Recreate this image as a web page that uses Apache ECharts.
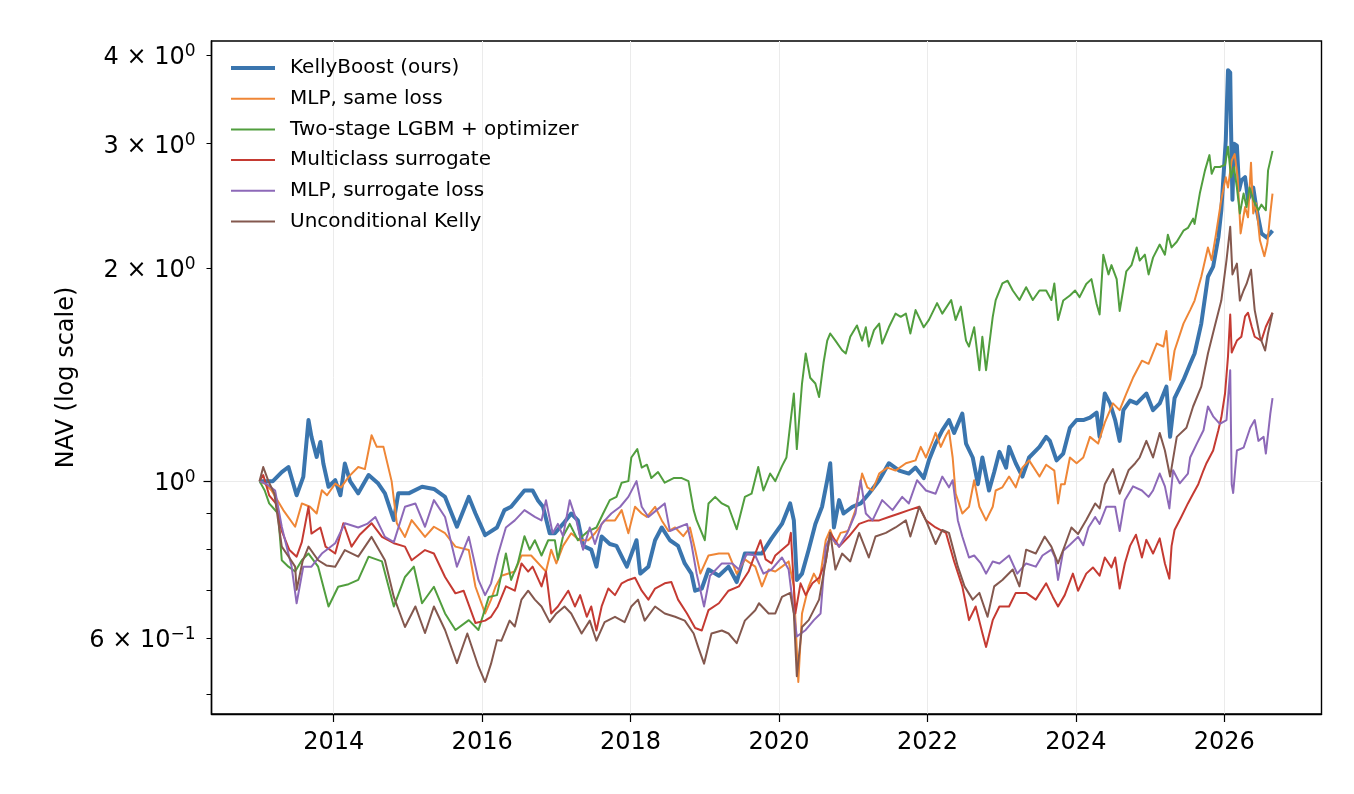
<!DOCTYPE html>
<html>
<head>
<meta charset="utf-8">
<title>NAV (log scale)</title>
<script src="https://cdn.jsdelivr.net/npm/echarts@6/dist/echarts.min.js"></script>
<style>
html, body { margin: 0; padding: 0; background: #fff; }
#chart { width: 1354px; height: 794px; }
</style>
</head>
<body>
<div id="chart"></div>
<script>
// [year, NAV]
var kellyBoost = [[2013.0,1.0],[2013.1,1.0],[2013.18,1.0],[2013.3,1.03],[2013.39,1.047],[2013.5,0.955],[2013.59,1.014],[2013.66,1.22],[2013.7,1.155],[2013.77,1.082],[2013.82,1.136],[2013.86,1.059],[2013.93,0.982],[2014.02,1.003],[2014.09,0.955],[2014.15,1.059],[2014.22,1.0],[2014.33,0.961],[2014.47,1.02],[2014.6,0.992],[2014.69,0.961],[2014.81,0.881],[2014.87,0.961],[2015.01,0.961],[2015.19,0.982],[2015.35,0.975],[2015.5,0.95],[2015.66,0.862],[2015.82,0.95],[2015.91,0.9],[2016.04,0.839],[2016.2,0.86],[2016.3,0.91],[2016.39,0.92],[2016.57,0.97],[2016.68,0.97],[2016.75,0.94],[2016.82,0.92],[2016.91,0.844],[2016.98,0.844],[2017.09,0.87],[2017.2,0.9],[2017.29,0.88],[2017.36,0.81],[2017.47,0.8],[2017.54,0.757],[2017.61,0.835],[2017.72,0.815],[2017.81,0.81],[2017.9,0.775],[2017.95,0.757],[2018.08,0.825],[2018.13,0.74],[2018.24,0.757],[2018.33,0.825],[2018.42,0.86],[2018.53,0.825],[2018.64,0.81],[2018.73,0.765],[2018.82,0.74],[2018.87,0.7],[2018.96,0.705],[2019.05,0.75],[2019.19,0.735],[2019.32,0.757],[2019.43,0.72],[2019.54,0.79],[2019.68,0.79],[2019.77,0.79],[2019.9,0.83],[2020.04,0.87],[2020.15,0.93],[2020.2,0.88],[2020.24,0.725],[2020.31,0.74],[2020.4,0.8],[2020.49,0.87],[2020.58,0.92],[2020.65,1.003],[2020.69,1.06],[2020.74,0.86],[2020.81,0.94],[2020.87,0.9],[2020.99,0.92],[2021.1,0.93],[2021.21,0.96],[2021.35,1.003],[2021.48,1.06],[2021.62,1.035],[2021.75,1.025],[2021.84,1.045],[2021.95,1.01],[2022.02,1.07],[2022.11,1.13],[2022.2,1.18],[2022.29,1.22],[2022.36,1.17],[2022.47,1.246],[2022.52,1.13],[2022.61,1.08],[2022.68,0.99],[2022.74,1.08],[2022.83,0.97],[2022.9,1.03],[2022.97,1.1],[2023.06,1.045],[2023.1,1.118],[2023.19,1.06],[2023.28,1.015],[2023.37,1.08],[2023.51,1.118],[2023.6,1.155],[2023.65,1.14],[2023.74,1.07],[2023.83,1.094],[2023.92,1.19],[2024.01,1.22],[2024.1,1.22],[2024.19,1.23],[2024.28,1.25],[2024.32,1.155],[2024.39,1.33],[2024.46,1.288],[2024.53,1.22],[2024.59,1.14],[2024.64,1.26],[2024.73,1.3],[2024.82,1.288],[2024.95,1.33],[2025.04,1.26],[2025.13,1.288],[2025.22,1.36],[2025.27,1.155],[2025.33,1.31],[2025.45,1.39],[2025.54,1.465],[2025.6,1.515],[2025.69,1.67],[2025.78,1.945],[2025.85,2.01],[2025.92,2.21],[2025.96,2.415],[2026.02,3.03],[2026.05,3.81],[2026.08,3.78],[2026.09,3.2],[2026.11,2.5],[2026.13,3.0],[2026.17,2.98],[2026.2,2.58],[2026.23,2.66],[2026.28,2.69],[2026.32,2.5],[2026.39,2.6],[2026.43,2.44],[2026.5,2.24],[2026.57,2.21],[2026.65,2.26]];

var mlpSameLoss = [[2013.0,1.0],[2013.08,0.99],[2013.16,0.971],[2013.32,0.91],[2013.48,0.862],[2013.57,0.93],[2013.68,0.92],[2013.77,0.9],[2013.84,0.971],[2013.91,0.955],[2014.02,0.992],[2014.1,0.98],[2014.2,1.014],[2014.33,1.047],[2014.42,1.04],[2014.51,1.161],[2014.58,1.118],[2014.67,1.118],[2014.78,1.0],[2014.85,0.872],[2014.96,0.834],[2015.05,0.881],[2015.23,0.834],[2015.35,0.862],[2015.5,0.844],[2015.64,0.808],[2015.82,0.799],[2015.91,0.709],[2016.04,0.65],[2016.12,0.68],[2016.18,0.709],[2016.26,0.735],[2016.44,0.745],[2016.53,0.785],[2016.66,0.785],[2016.86,0.745],[2016.93,0.8],[2017.0,0.765],[2017.09,0.81],[2017.2,0.844],[2017.31,0.825],[2017.43,0.825],[2017.52,0.844],[2017.65,0.88],[2017.79,0.88],[2017.88,0.91],[2017.97,0.844],[2018.06,0.92],[2018.15,0.9],[2018.22,0.89],[2018.33,0.92],[2018.42,0.88],[2018.51,0.85],[2018.6,0.86],[2018.71,0.836],[2018.8,0.86],[2018.87,0.8],[2018.94,0.74],[2019.05,0.785],[2019.19,0.79],[2019.32,0.79],[2019.43,0.74],[2019.54,0.775],[2019.68,0.757],[2019.77,0.71],[2019.86,0.75],[2019.95,0.745],[2020.04,0.757],[2020.13,0.77],[2020.2,0.71],[2020.26,0.52],[2020.31,0.65],[2020.4,0.71],[2020.47,0.74],[2020.54,0.717],[2020.63,0.825],[2020.69,0.853],[2020.76,0.815],[2020.83,0.845],[2020.93,0.85],[2021.03,0.91],[2021.12,1.025],[2021.19,0.98],[2021.26,0.97],[2021.35,1.025],[2021.46,1.045],[2021.57,1.035],[2021.71,1.06],[2021.84,1.07],[2021.91,1.118],[2021.98,1.08],[2022.07,1.14],[2022.11,1.17],[2022.18,1.118],[2022.25,1.16],[2022.29,1.18],[2022.34,1.08],[2022.38,0.96],[2022.47,0.9],[2022.56,0.92],[2022.63,1.003],[2022.7,0.92],[2022.79,0.88],[2022.88,0.92],[2022.92,0.97],[2023.01,0.98],[2023.1,1.015],[2023.19,0.98],[2023.28,1.045],[2023.37,1.07],[2023.51,1.015],[2023.6,1.055],[2023.71,1.035],[2023.76,0.93],[2023.8,0.99],[2023.85,0.99],[2023.92,1.08],[2024.01,1.06],[2024.1,1.08],[2024.19,1.155],[2024.3,1.13],[2024.39,1.21],[2024.5,1.288],[2024.59,1.26],[2024.68,1.33],[2024.77,1.4],[2024.89,1.48],[2024.98,1.465],[2025.09,1.565],[2025.18,1.55],[2025.22,1.63],[2025.27,1.39],[2025.33,1.53],[2025.45,1.67],[2025.54,1.745],[2025.6,1.8],[2025.69,1.945],[2025.78,2.14],[2025.83,2.053],[2025.89,2.24],[2025.96,2.5],[2026.02,2.69],[2026.05,2.6],[2026.1,2.84],[2026.14,2.9],[2026.18,2.69],[2026.22,2.24],[2026.28,2.44],[2026.32,2.36],[2026.36,2.82],[2026.39,2.39],[2026.43,2.47],[2026.48,2.19],[2026.54,2.08],[2026.58,2.167],[2026.62,2.39],[2026.65,2.55]];

var twoStageLgbm = [[2013.0,1.0],[2013.07,0.97],[2013.13,0.93],[2013.25,0.9],[2013.3,0.773],[2013.39,0.757],[2013.48,0.745],[2013.57,0.773],[2013.66,0.79],[2013.79,0.757],[2013.93,0.665],[2014.06,0.709],[2014.2,0.715],[2014.33,0.725],[2014.47,0.782],[2014.65,0.77],[2014.81,0.665],[2014.96,0.732],[2015.08,0.757],[2015.19,0.672],[2015.35,0.709],[2015.5,0.65],[2015.64,0.616],[2015.82,0.636],[2015.95,0.616],[2016.09,0.686],[2016.2,0.69],[2016.32,0.79],[2016.39,0.725],[2016.48,0.765],[2016.57,0.836],[2016.64,0.8],[2016.71,0.825],[2016.8,0.785],[2016.89,0.825],[2016.98,0.825],[2017.02,0.775],[2017.09,0.836],[2017.18,0.87],[2017.29,0.825],[2017.43,0.85],[2017.54,0.86],[2017.63,0.9],[2017.72,0.94],[2017.81,0.95],[2017.88,0.995],[2017.97,1.0],[2018.01,1.08],[2018.09,1.11],[2018.15,1.045],[2018.22,1.055],[2018.28,1.01],[2018.37,1.03],[2018.46,0.995],[2018.58,1.01],[2018.69,1.01],[2018.78,1.0],[2018.85,0.91],[2018.89,0.88],[2019.0,0.825],[2019.05,0.93],[2019.14,0.95],[2019.23,0.93],[2019.32,0.92],[2019.43,0.855],[2019.54,0.95],[2019.63,0.96],[2019.72,1.047],[2019.79,0.97],[2019.88,1.025],[2019.95,1.0],[2020.04,1.05],[2020.1,1.08],[2020.15,1.2],[2020.2,1.33],[2020.24,1.11],[2020.31,1.374],[2020.36,1.515],[2020.42,1.4],[2020.49,1.374],[2020.54,1.315],[2020.6,1.47],[2020.65,1.58],[2020.69,1.617],[2020.76,1.58],[2020.85,1.531],[2020.9,1.515],[2020.96,1.6],[2021.05,1.66],[2021.12,1.58],[2021.17,1.65],[2021.21,1.55],[2021.28,1.635],[2021.35,1.67],[2021.39,1.565],[2021.48,1.65],[2021.57,1.725],[2021.64,1.707],[2021.71,1.725],[2021.77,1.617],[2021.84,1.745],[2021.95,1.65],[2022.02,1.69],[2022.13,1.785],[2022.2,1.725],[2022.32,1.803],[2022.38,1.69],[2022.45,1.765],[2022.52,1.58],[2022.56,1.55],[2022.63,1.65],[2022.7,1.435],[2022.74,1.6],[2022.79,1.435],[2022.83,1.55],[2022.88,1.707],[2022.92,1.803],[2023.01,1.903],[2023.08,1.92],[2023.15,1.86],[2023.24,1.803],[2023.33,1.88],[2023.42,1.803],[2023.51,1.86],[2023.6,1.86],[2023.67,1.803],[2023.71,1.903],[2023.76,1.69],[2023.83,1.8],[2023.92,1.83],[2023.99,1.86],[2024.05,1.82],[2024.14,1.9],[2024.21,1.93],[2024.28,1.78],[2024.32,1.72],[2024.37,2.09],[2024.44,1.96],[2024.48,2.02],[2024.55,1.93],[2024.59,1.74],[2024.68,1.98],[2024.75,2.02],[2024.82,2.14],[2024.86,2.05],[2024.93,2.09],[2024.98,1.96],[2025.04,2.07],[2025.13,2.16],[2025.2,2.09],[2025.24,2.23],[2025.29,2.14],[2025.36,2.18],[2025.45,2.26],[2025.51,2.28],[2025.58,2.35],[2025.6,2.31],[2025.67,2.55],[2025.74,2.75],[2025.8,2.89],[2025.83,2.72],[2025.87,2.78],[2025.94,2.78],[2026.01,2.8],[2026.05,2.97],[2026.09,2.69],[2026.13,2.78],[2026.17,2.6],[2026.21,2.39],[2026.26,2.55],[2026.3,2.44],[2026.34,2.6],[2026.39,2.5],[2026.46,2.415],[2026.5,2.46],[2026.56,2.415],[2026.59,2.75],[2026.65,2.93]];

var multiclassSurrogate = [[2013.0,1.0],[2013.05,1.02],[2013.13,0.955],[2013.22,0.93],[2013.3,0.85],[2013.4,0.8],[2013.5,0.782],[2013.57,0.82],[2013.66,0.92],[2013.7,0.843],[2013.82,0.86],[2013.89,0.808],[2014.02,0.79],[2014.13,0.872],[2014.24,0.808],[2014.35,0.84],[2014.51,0.872],[2014.65,0.834],[2014.81,0.817],[2014.96,0.808],[2015.05,0.773],[2015.23,0.799],[2015.35,0.79],[2015.5,0.732],[2015.64,0.694],[2015.75,0.7],[2015.91,0.63],[2016.04,0.635],[2016.12,0.643],[2016.21,0.665],[2016.32,0.71],[2016.44,0.7],[2016.53,0.765],[2016.62,0.745],[2016.68,0.757],[2016.8,0.71],[2016.86,0.745],[2016.93,0.65],[2017.02,0.665],[2017.16,0.7],[2017.25,0.665],[2017.32,0.69],[2017.41,0.643],[2017.47,0.665],[2017.54,0.615],[2017.61,0.665],[2017.7,0.705],[2017.79,0.69],[2017.88,0.717],[2017.97,0.725],[2018.06,0.73],[2018.15,0.7],[2018.24,0.68],[2018.33,0.705],[2018.46,0.717],[2018.55,0.72],[2018.64,0.68],[2018.76,0.65],[2018.87,0.62],[2018.96,0.615],[2019.05,0.657],[2019.19,0.672],[2019.32,0.7],[2019.46,0.71],[2019.59,0.745],[2019.68,0.79],[2019.75,0.825],[2019.82,0.775],[2019.9,0.765],[2019.95,0.785],[2020.04,0.8],[2020.13,0.815],[2020.16,0.845],[2020.22,0.65],[2020.29,0.717],[2020.36,0.69],[2020.45,0.717],[2020.54,0.73],[2020.63,0.77],[2020.69,0.845],[2020.81,0.808],[2020.94,0.835],[2021.08,0.87],[2021.21,0.88],[2021.35,0.88],[2021.48,0.89],[2021.62,0.9],[2021.75,0.91],[2021.89,0.92],[2021.98,0.88],[2022.11,0.86],[2022.25,0.845],[2022.36,0.77],[2022.47,0.71],[2022.56,0.636],[2022.65,0.665],[2022.74,0.61],[2022.79,0.583],[2022.88,0.636],[2022.97,0.665],[2023.1,0.665],[2023.19,0.695],[2023.33,0.695],[2023.46,0.68],[2023.6,0.717],[2023.69,0.686],[2023.76,0.665],[2023.85,0.69],[2023.96,0.74],[2024.03,0.7],[2024.14,0.74],[2024.23,0.755],[2024.32,0.735],[2024.39,0.78],[2024.48,0.755],[2024.53,0.78],[2024.59,0.705],[2024.66,0.765],[2024.73,0.81],[2024.81,0.84],[2024.89,0.78],[2024.95,0.826],[2025.04,0.79],[2025.13,0.83],[2025.2,0.765],[2025.26,0.728],[2025.29,0.81],[2025.33,0.853],[2025.42,0.89],[2025.51,0.93],[2025.58,0.96],[2025.65,0.99],[2025.72,1.036],[2025.76,1.06],[2025.85,1.105],[2025.92,1.18],[2025.96,1.23],[2026.01,1.33],[2026.05,1.5],[2026.08,1.72],[2026.1,1.52],[2026.17,1.58],[2026.23,1.6],[2026.28,1.71],[2026.32,1.73],[2026.37,1.653],[2026.41,1.6],[2026.5,1.58],[2026.56,1.653],[2026.65,1.73]];

var mlpSurrogateLoss = [[2013.0,1.0],[2013.1,0.99],[2013.21,0.97],[2013.3,0.862],[2013.35,0.82],[2013.43,0.76],[2013.5,0.672],[2013.59,0.757],[2013.7,0.757],[2013.84,0.79],[2014.02,0.817],[2014.15,0.872],[2014.33,0.86],[2014.45,0.87],[2014.56,0.89],[2014.69,0.834],[2014.81,0.82],[2014.96,0.92],[2015.1,0.93],[2015.23,0.862],[2015.35,0.94],[2015.5,0.89],[2015.66,0.757],[2015.82,0.834],[2015.95,0.725],[2016.04,0.69],[2016.12,0.717],[2016.21,0.785],[2016.32,0.86],[2016.44,0.88],[2016.57,0.91],[2016.71,0.89],[2016.8,0.88],[2016.86,0.94],[2016.95,0.844],[2017.02,0.87],[2017.09,0.836],[2017.18,0.94],[2017.27,0.88],[2017.36,0.8],[2017.45,0.86],[2017.52,0.815],[2017.61,0.87],[2017.74,0.9],[2017.86,0.92],[2017.97,0.95],[2018.08,1.0],[2018.15,0.92],[2018.24,0.89],[2018.35,0.91],[2018.46,0.93],[2018.53,0.85],[2018.64,0.86],[2018.76,0.87],[2018.82,0.815],[2018.89,0.74],[2018.99,0.665],[2019.07,0.735],[2019.23,0.765],[2019.37,0.765],[2019.46,0.75],[2019.57,0.79],[2019.68,0.785],[2019.79,0.74],[2019.9,0.75],[2020.04,0.78],[2020.13,0.75],[2020.24,0.603],[2020.36,0.616],[2020.47,0.636],[2020.56,0.65],[2020.63,0.808],[2020.69,0.835],[2020.81,0.808],[2020.92,0.845],[2021.03,0.9],[2021.1,1.003],[2021.17,0.9],[2021.26,0.88],[2021.39,0.94],[2021.53,0.91],[2021.66,0.95],[2021.75,0.93],[2021.86,1.003],[2021.98,0.97],[2022.11,0.96],[2022.2,1.015],[2022.29,0.98],[2022.34,1.003],[2022.41,0.88],[2022.47,0.835],[2022.56,0.78],[2022.63,0.785],[2022.72,0.765],[2022.79,0.74],[2022.88,0.77],[2022.97,0.765],[2023.1,0.785],[2023.21,0.74],[2023.33,0.765],[2023.46,0.757],[2023.55,0.785],[2023.67,0.8],[2023.72,0.78],[2023.76,0.725],[2023.83,0.797],[2023.92,0.813],[2024.03,0.834],[2024.1,0.812],[2024.17,0.86],[2024.26,0.89],[2024.32,0.87],[2024.41,0.92],[2024.53,0.92],[2024.59,0.85],[2024.66,0.94],[2024.77,0.983],[2024.89,0.97],[2024.98,0.95],[2025.04,0.97],[2025.13,1.025],[2025.2,0.983],[2025.26,0.915],[2025.31,1.036],[2025.4,0.993],[2025.51,1.025],[2025.54,1.08],[2025.63,1.13],[2025.72,1.18],[2025.78,1.275],[2025.85,1.235],[2025.94,1.205],[2026.03,1.22],[2026.08,1.435],[2026.1,0.99],[2026.12,0.962],[2026.17,1.105],[2026.26,1.115],[2026.35,1.19],[2026.41,1.22],[2026.46,1.14],[2026.53,1.155],[2026.56,1.094],[2026.62,1.245],[2026.65,1.31]];

var unconditionalKelly = [[2013.0,1.0],[2013.05,1.047],[2013.12,1.0],[2013.2,0.96],[2013.3,0.808],[2013.4,0.78],[2013.48,0.757],[2013.5,0.702],[2013.58,0.77],[2013.66,0.808],[2013.79,0.773],[2013.9,0.76],[2014.02,0.757],[2014.15,0.799],[2014.33,0.782],[2014.51,0.834],[2014.69,0.773],[2014.81,0.686],[2014.96,0.622],[2015.1,0.665],[2015.23,0.61],[2015.35,0.665],[2015.5,0.616],[2015.66,0.553],[2015.8,0.609],[2015.95,0.547],[2016.04,0.52],[2016.12,0.552],[2016.2,0.596],[2016.26,0.595],[2016.37,0.635],[2016.44,0.623],[2016.53,0.68],[2016.62,0.7],[2016.71,0.68],[2016.8,0.665],[2016.91,0.632],[2017.0,0.65],[2017.11,0.665],[2017.2,0.65],[2017.34,0.609],[2017.45,0.635],[2017.54,0.595],[2017.65,0.632],[2017.79,0.643],[2017.92,0.632],[2018.01,0.665],[2018.1,0.68],[2018.19,0.635],[2018.33,0.665],[2018.46,0.65],[2018.6,0.643],[2018.73,0.635],[2018.85,0.609],[2018.91,0.583],[2018.99,0.552],[2019.09,0.609],[2019.23,0.615],[2019.32,0.609],[2019.43,0.59],[2019.54,0.635],[2019.68,0.657],[2019.73,0.672],[2019.86,0.65],[2019.95,0.65],[2020.04,0.686],[2020.15,0.695],[2020.2,0.65],[2020.24,0.53],[2020.31,0.622],[2020.4,0.636],[2020.54,0.68],[2020.63,0.77],[2020.69,0.845],[2020.76,0.75],[2020.85,0.79],[2020.96,0.77],[2021.08,0.845],[2021.21,0.78],[2021.3,0.835],[2021.44,0.845],[2021.57,0.86],[2021.71,0.88],[2021.77,0.835],[2021.89,0.92],[2021.98,0.88],[2022.11,0.815],[2022.2,0.853],[2022.29,0.845],[2022.41,0.757],[2022.5,0.71],[2022.61,0.68],[2022.7,0.695],[2022.81,0.643],[2022.9,0.71],[2023.01,0.725],[2023.15,0.75],[2023.24,0.71],[2023.33,0.8],[2023.46,0.79],[2023.58,0.835],[2023.67,0.808],[2023.76,0.765],[2023.85,0.81],[2023.94,0.86],[2024.03,0.842],[2024.14,0.881],[2024.26,0.93],[2024.32,0.915],[2024.39,0.99],[2024.5,1.04],[2024.59,0.96],[2024.71,1.036],[2024.8,1.06],[2024.86,1.08],[2024.95,1.14],[2025.04,1.08],[2025.13,1.17],[2025.2,1.105],[2025.27,1.015],[2025.36,1.155],[2025.49,1.19],[2025.58,1.275],[2025.69,1.36],[2025.78,1.515],[2025.87,1.653],[2025.96,1.8],[2026.03,2.053],[2026.08,2.288],[2026.11,1.96],[2026.17,2.03],[2026.21,1.8],[2026.26,1.86],[2026.3,1.9],[2026.36,1.99],[2026.41,1.745],[2026.48,1.6],[2026.55,1.53],[2026.59,1.62],[2026.65,1.73]];

var seriesNames = ['KellyBoost (ours)', 'MLP, same loss', 'Two-stage LGBM + optimizer', 'Multiclass surrogate', 'MLP, surrogate loss', 'Unconditional Kelly'];
var yearTicks = [2014, 2016, 2018, 2020, 2022, 2024, 2026];
var navLabels = [0.6, 1, 2, 3, 4];
var navTicks = [0.5, 0.6, 0.7, 0.8, 0.9, 2, 3, 4];

var FONT = 'DejaVu Sans';
var colors = ['#3a75ae', '#ef8636', '#519e3e', '#c53a32', '#8d69b8', '#84584e'];
var widths = [4, 2, 2, 2, 2, 2];
var allData = [kellyBoost, mlpSameLoss, twoStageLgbm, multiclassSurrogate, mlpSurrogateLoss, unconditionalKelly];

// "m × 10^e" with the exponent as a raised token
function sciLabel(v) {
    var e = Math.floor(Math.log10(v) + 1e-6);
    var m = Math.round(v / Math.pow(10, e));
    var sup = e < 0 ? '\u2212' + (-e) : String(e);
    return (m === 1 ? '' : m + ' \u00d7 ') + '10{s|' + sup + '}';
}

var chart = echarts.init(document.getElementById('chart'));
var option = {
    animation: false,
    backgroundColor: '#fff',
    textStyle: { fontFamily: FONT },
    grid: {
        left: 211.5, right: 32.5, top: 41, bottom: 80,
        show: true, borderColor: '#000', borderWidth: 1.4, backgroundColor: 'transparent'
    },
    legend: {
        data: seriesNames.map(function (n, i) {
            return { name: n, lineStyle: { width: widths[i] } };
        }),
        orient: 'vertical',
        left: 229, top: 58, padding: 0,
        itemWidth: 44, itemHeight: 14, itemGap: 10.7,
        itemStyle: { opacity: 0 },
        textStyle: { fontSize: 20, fontFamily: FONT, color: '#000', padding: [0, 0, 0, 10] }
    },
    xAxis: {
        type: 'value',
        min: 2012.353, max: 2027.31,
        axisLine: { lineStyle: { color: '#000', width: 1.4 } },
        axisTick: { length: 8, customValues: yearTicks, lineStyle: { color: '#000', width: 1.2 } },
        axisLabel: {
            customValues: yearTicks, fontSize: 24, margin: 17, color: '#000', fontFamily: FONT,
            formatter: function (v) { return String(v); }
        },
        splitLine: { show: true, lineStyle: { color: '#ebebeb', width: 1 } }
    },
    yAxis: [{
        type: 'log', logBase: 10,
        min: 0.4686, max: 4.19,
        name: 'NAV (log scale)', nameLocation: 'middle', nameGap: 132,
        nameTextStyle: { fontSize: 24, color: '#000', fontFamily: FONT },
        axisLine: { show: true, lineStyle: { color: '#000', width: 1.4 } },
        axisTick: { length: 5, customValues: navTicks, lineStyle: { color: '#000', width: 1 } },
        axisLabel: {
            customValues: navLabels, margin: 16, color: '#000', fontFamily: FONT, fontSize: 24,
            padding: [6, 0, 0, 0],
            formatter: sciLabel,
            rich: {
                s: { fontSize: 17, color: '#000', fontFamily: FONT, padding: [0, 0, 13, 0] }
            }
        },
        splitLine: { show: false }
    }, {
        type: 'log', logBase: 10,
        min: 0.4686, max: 4.19,
        position: 'left',
        axisLine: { show: false },
        axisTick: { show: true, length: 8, customValues: [1], lineStyle: { color: '#000', width: 1.2 } },
        axisLabel: { show: false },
        splitLine: { show: true, lineStyle: { color: '#ebebeb', width: 1 } }
    }],
    series: seriesNames.map(function (name, i) {
        return {
            name: name,
            type: 'line',
            data: allData[i],
            showSymbol: false,
            symbol: 'none',
            color: colors[i],
            lineStyle: { width: widths[i], color: colors[i], join: 'round' },
            emphasis: { disabled: true }
        };
    })
};
chart.setOption(option);
window.addEventListener('resize', chart.resize);
</script>
</body>
</html>
